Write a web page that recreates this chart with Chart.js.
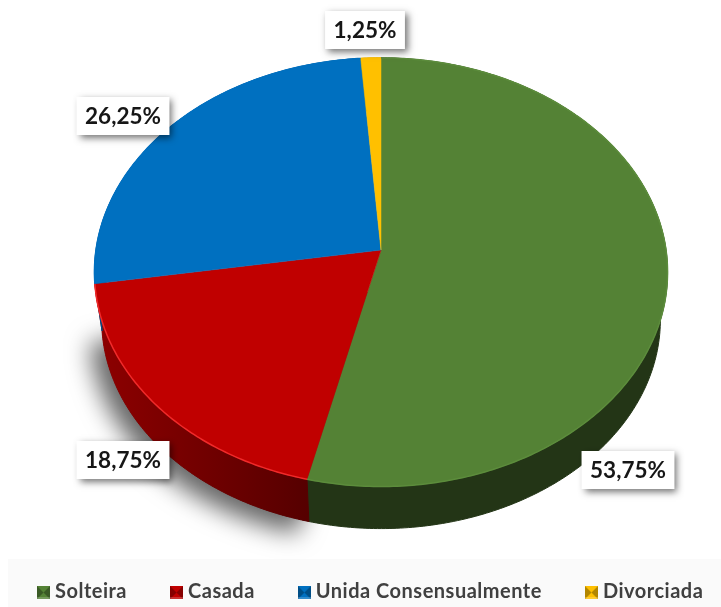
<!DOCTYPE html>
<html>
<head>
<meta charset="utf-8">
<title>Situação conjugal</title>
<style>
  html, body { margin: 0; padding: 0; background: #fff; }
  canvas { display: block; }
</style>
<script src="https://cdn.jsdelivr.net/npm/chart.js@4"></script>
</head>
<body>
<canvas id="pie-chart" width="721" height="607"></canvas>
<script>
// ------------------ Data -------------------//
const categories = ["Solteira", "Casada", "Unida Consensualmente", "Divorciada"];
const percentages = [53.75, 18.75, 26.25, 1.25];
const percentLabels = ["53,75%", "18,75%", "26,25%", "1,25%"];

const faceColors = ["#548235", "#C00000", "#0070C0", "#FFC000"];
const rimColors = ["#5c8c3c", "#f02a2a", "#0070C0", "#FFC000"];
const wallColors = [
    ["#233516", "#233516"],
    ["#8e0000", "#560000"],
    ["#004f88", "#004f88"],
    ["#b58800", "#b58800"]
];

// label box centres, placed by hand
const labelCentres = [[628, 470], [123, 460], [123, 116], [365, 30]];

// ------------------ Tilted pie geometry -------------------//
// the lower disc is a bit smaller than the top one, which gives the perspective
const pie = { cx: 381, cy: 250, rx: 285, ry: 212, skew: -0.1036, drop: 48, lowerScale: 0.975 };

function project(angle, lower = false) {
    const u = Math.cos(angle), v = Math.sin(angle);
    const d = 1 + pie.skew * v;
    const s = lower ? pie.lowerScale : 1;
    return [
        pie.cx + s * pie.rx * u / d,
        pie.cy + s * pie.ry * v / d + (lower ? pie.drop : 0)
    ];
}

function traceEdge(ctx, a0, a1, lower) {
    const steps = Math.max(2, Math.ceil(Math.abs(a1 - a0) * 80));
    for (let i = 0; i <= steps; i++) {
        const p = project(a0 + (a1 - a0) * i / steps, lower);
        ctx.lineTo(p[0], p[1]);
    }
}

function drawLegend(ctx) {
    ctx.save();
    ctx.fillStyle = '#fafafa';
    ctx.fillRect(8, 559, 713, 48);
    ctx.font = 'bold 20px Lato';
    ctx.letterSpacing = '0.5px';
    ctx.textBaseline = 'middle';
    ctx.textAlign = 'left';
    let x = 37;
    categories.forEach((name, i) => {
        ctx.drawImage(bevelSquare(faceColors[i]), x, 586);
        ctx.fillStyle = '#404040';
        ctx.fillText(name, x + 18, 592);
        x += 18 + ctx.measureText(name).width + 43;
    });
    ctx.restore();
}

const tiltedPie = {
    id: 'tiltedPie',
    beforeDatasetsDraw(chart) {
        const ctx = chart.ctx;
        const arcs = chart.getDatasetMeta(0).data;
        drawLegend(ctx);
        ctx.save();

        // soft shadow thrown by the red slice only
        ctx.save();
        ctx.shadowColor = 'rgba(0,0,0,0.6)';
        ctx.shadowBlur = 24;
        ctx.shadowOffsetX = -12;
        ctx.shadowOffsetY = 12;
        ctx.fillStyle = '#333';
        ctx.beginPath();
        ctx.moveTo(pie.cx, pie.cy + 40);
        traceEdge(ctx, arcs[1].startAngle, arcs[1].endAngle, true);
        ctx.closePath();
        ctx.fill();
        ctx.restore();

        // outer walls
        arcs.forEach((arc, i) => {
            const left = project(arc.endAngle)[0], right = project(arc.startAngle)[0];
            const grad = ctx.createLinearGradient(Math.min(left, right), 0, Math.max(left, right), 0);
            grad.addColorStop(0, wallColors[i][0]);
            grad.addColorStop(1, wallColors[i][1]);
            ctx.fillStyle = grad;
            ctx.strokeStyle = grad;
            ctx.beginPath();
            traceEdge(ctx, arc.startAngle, arc.endAngle, false);
            traceEdge(ctx, arc.endAngle, arc.startAngle, true);
            ctx.closePath();
            ctx.fill();
            ctx.stroke();
        });

        // top faces
        arcs.forEach((arc, i) => {
            ctx.fillStyle = faceColors[i];
            ctx.strokeStyle = faceColors[i];
            ctx.lineWidth = 0.5;
            ctx.beginPath();
            ctx.moveTo(pie.cx, pie.cy);
            traceEdge(ctx, arc.startAngle, arc.endAngle, false);
            ctx.closePath();
            ctx.fill();
            ctx.stroke();
        });

        // thin lit rim along the edge of each face
        arcs.forEach((arc, i) => {
            ctx.strokeStyle = rimColors[i];
            ctx.lineWidth = 1.5;
            ctx.beginPath();
            traceEdge(ctx, arc.startAngle, arc.endAngle, false);
            ctx.stroke();
        });

        // percentage boxes
        ctx.font = 'bold 22.5px Lato';
        ctx.textAlign = 'center';
        ctx.textBaseline = 'middle';
        percentLabels.forEach((text, i) => {
            const c = labelCentres[i];
            const w = ctx.measureText(text).width + 17;
            const h = 38;
            ctx.save();
            ctx.shadowColor = 'rgba(0,0,0,0.55)';
            ctx.shadowBlur = 7;
            ctx.shadowOffsetX = 3;
            ctx.shadowOffsetY = 3;
            ctx.fillStyle = '#fff';
            ctx.fillRect(c[0] - w / 2, c[1] - h / 2, w, h);
            ctx.restore();
            ctx.fillStyle = '#161616';
            ctx.fillText(text, c[0], c[1] + 1);
        });

        ctx.restore();
        return false;
    }
};

// small bevelled legend markers
function bevelSquare(color) {
    const s = 13;
    const c = document.createElement('canvas');
    c.width = s; c.height = s;
    const g = c.getContext('2d');
    g.fillStyle = color;
    g.fillRect(0, 0, s, s);
    g.fillStyle = 'rgba(0,0,0,0.3)';
    g.beginPath();
    g.moveTo(0, 0); g.lineTo(s / 2, s / 2); g.lineTo(0, s);
    g.moveTo(s, 0); g.lineTo(s / 2, s / 2); g.lineTo(s, s);
    g.fill();
    g.fillStyle = 'rgba(255,255,255,0.2)';
    g.fillRect(0, s - 2, s, 2);
    return c;
}

// ------------------ Pie Chart -------------------//
new Chart(document.getElementById('pie-chart'), {
    type: 'pie',
    data: {
        labels: categories,
        datasets: [{
            data: percentages,
            backgroundColor: faceColors,
            borderWidth: 0
        }]
    },
    options: {
        responsive: false,
        animation: false,
        plugins: {
            tooltip: { enabled: false },
            legend: { display: false }
        }
    },
    plugins: [tiltedPie]
});
</script>
</body>
</html>
